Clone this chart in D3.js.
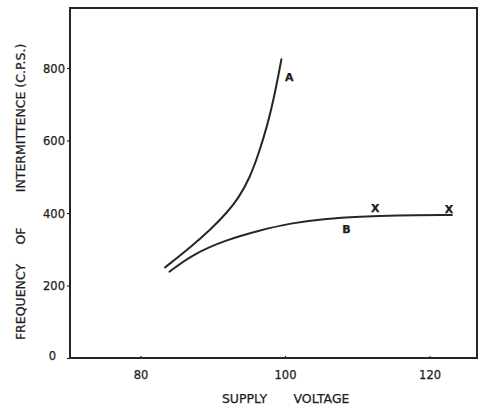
<!DOCTYPE html>
<html>
<head>
<meta charset="utf-8">
<script src="https://cdn.jsdelivr.net/npm/d3@7"></script>
<style>
  html, body { margin: 0; padding: 0; background: #fff; }
  svg { display: block; }
  text { font-family: "DejaVu Sans", sans-serif; fill: #1c1c1c; stroke: #1c1c1c; stroke-width: 0.25px; }
</style>
</head>
<body>
<svg id="chart" width="479" height="409"></svg>
<script>
// Data
const xTicks = [80, 100, 120];
const yTicks = [0, 200, 400, 600, 800];
const curveA = [
  [83.4, 250], [87.3, 312], [89.6, 353], [91.9, 399], [93.6, 442],
  [95.1, 496], [96.4, 566], [97.6, 645], [98.5, 721], [99.2, 792], [99.5, 824]
];
const curveB = [
  [84.0, 238], [87.3, 287], [91.9, 326], [96.3, 351], [100.7, 372],
  [105.8, 385], [110.4, 390], [115.0, 394], [123.1, 394.5]
];
const crossMarks = [[112.5, 414], [122.7, 411]];
const curveLabels = [{t: "A", x: 100.6, y: 775}, {t: "B", x: 108.5, y: 355}];

const svg = d3.select("#chart");
const x = d3.scaleLinear().domain([70.24, 126.57]).range([70, 477]);
const y = d3.scaleLinear().domain([0, 965.5]).range([358, 8]);
const ink = "#262626";

// frame
svg.append("rect")
  .attr("x", x.range()[0]).attr("y", y.range()[1])
  .attr("width", x.range()[1] - x.range()[0])
  .attr("height", y.range()[0] - y.range()[1])
  .attr("fill", "none").attr("stroke", ink).attr("stroke-width", 2);

// y axis
const yAxis = d3.axisLeft(y).tickValues(yTicks).tickSize(3).tickPadding(2).tickFormat(d3.format("d"));
const gy = svg.append("g").attr("transform", `translate(${x.range()[0]},0)`).call(yAxis);
gy.select(".domain").remove();
gy.selectAll("line").attr("stroke", ink).attr("stroke-width", 1.2);
gy.selectAll("text").style("font-size", "11.5px").attr("dy", "0.35em");
gy.selectAll(".tick").filter(d => d === 0).select("text").attr("x", -14).attr("dy", "0.1em");

// x axis
const xAxis = d3.axisBottom(x).tickValues(xTicks).tickSize(-2).tickPadding(13).tickFormat(d3.format("d"));
const gx = svg.append("g").attr("transform", `translate(0,${y.range()[0]})`).call(xAxis);
gx.select(".domain").remove();
gx.selectAll("line").attr("stroke", ink).attr("stroke-width", 1.2);
gx.selectAll("text").style("font-size", "11.5px");

// curves
const line = d3.line().x(d => x(d[0])).y(d => y(d[1])).curve(d3.curveBasis);
[curveA, curveB].forEach(c => {
  svg.append("path").datum(c).attr("d", line)
    .attr("fill", "none").attr("stroke", ink).attr("stroke-width", 2)
    .attr("stroke-linecap", "round");
});

// X marks
svg.selectAll(".xm").data(crossMarks).enter().append("text")
  .attr("x", d => x(d[0])).attr("y", d => y(d[1]))
  .attr("text-anchor", "middle").attr("dy", "0.35em")
  .style("font-size", "11px").style("font-weight", "bold").text("X");

// curve labels
svg.selectAll(".cl").data(curveLabels).enter().append("text")
  .attr("x", d => x(d.x)).attr("y", d => y(d.y))
  .attr("text-anchor", "middle").attr("dy", "0.35em")
  .style("font-size", "11px").style("font-weight", "bold").text(d => d.t);

// axis titles
const xt = svg.append("g").style("font-size", "12.5px");
xt.append("text").attr("x", 244.5).attr("y", 402.5).attr("text-anchor", "middle").text("SUPPLY");
xt.append("text").attr("x", 321.5).attr("y", 402.5).attr("text-anchor", "middle").text("VOLTAGE");

const yt = svg.append("g").style("font-size", "12.5px");
[["FREQUENCY", 302], ["OF", 236], ["INTERMITTENCE (C.P.S.)", 118]].forEach(([t, cy]) => {
  yt.append("text").attr("transform", `translate(25,${cy}) rotate(-90)`)
    .attr("text-anchor", "middle").text(t);
});
</script>
</body>
</html>
